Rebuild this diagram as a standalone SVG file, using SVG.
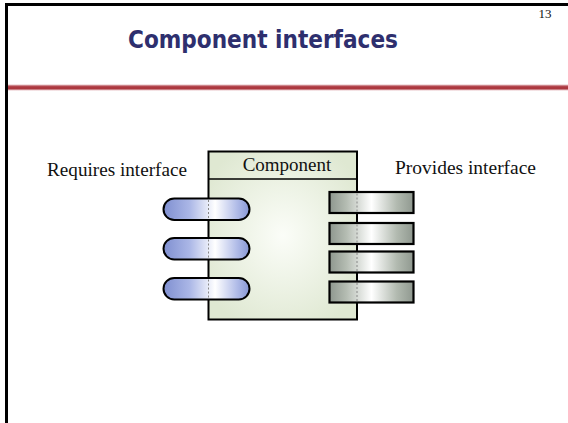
<svg xmlns="http://www.w3.org/2000/svg" width="568" height="423" viewBox="0 0 568 423">
  <defs>
    <radialGradient id="bodyFill" cx="0.5" cy="0.5" r="0.6">
      <stop offset="0" stop-color="#fbfdf8"/>
      <stop offset="1" stop-color="#dfe8d2"/>
    </radialGradient>
    <linearGradient id="pillFill" x1="0" y1="0" x2="1" y2="0">
      <stop offset="0" stop-color="#7f8fd0"/>
      <stop offset="0.3" stop-color="#aab6e6"/>
      <stop offset="0.6" stop-color="#ffffff"/>
      <stop offset="0.85" stop-color="#b2bde8"/>
      <stop offset="1" stop-color="#8696d4"/>
    </linearGradient>
    <linearGradient id="barFill" x1="0" y1="0" x2="1" y2="0">
      <stop offset="0" stop-color="#8e978e"/>
      <stop offset="0.2" stop-color="#b4bcb2"/>
      <stop offset="0.5" stop-color="#ffffff"/>
      <stop offset="0.8" stop-color="#b2bab0"/>
      <stop offset="1" stop-color="#8f988f"/>
    </linearGradient>
    <linearGradient id="rule" x1="0" y1="0" x2="0" y2="1">
      <stop offset="0" stop-color="#e8c4c8"/>
      <stop offset="0.35" stop-color="#b04048"/>
      <stop offset="0.65" stop-color="#a83038"/>
      <stop offset="1" stop-color="#e8c4c8"/>
    </linearGradient>
  </defs>
  <style>
    .serif { font-family: "Liberation Serif", "Times New Roman", serif; fill: #111; }
    .pill { fill: url(#pillFill); stroke: #000; stroke-width: 2; }
    .bar { fill: url(#barFill); stroke: #000; stroke-width: 2.2; }
    .seam { stroke: #888; stroke-width: 1; stroke-dasharray: 2 2; fill: none; }
  </style>

  <rect width="568" height="423" fill="#ffffff"/>

  <!-- slide frame -->
  <g id="frame">
    <path d="M6.5 423 V4.5 H568" fill="none" stroke="#000" stroke-width="3"/>
    <rect x="8" y="84.5" width="560" height="6" fill="url(#rule)"/>
  </g>

  <g id="header">
    <text x="545" y="18" class="serif" font-size="13" text-anchor="middle">13</text>
    <text x="263" y="48" font-family="'Comic Sans MS', 'DejaVu Sans', sans-serif" font-weight="bold" font-size="25" fill="#2e2f6e" text-anchor="middle" textLength="270" lengthAdjust="spacingAndGlyphs">Component interfaces</text>
  </g>

  <!-- component body -->
  <g id="component">
    <rect x="208.5" y="151.5" width="148.5" height="168" fill="url(#bodyFill)" stroke="#000" stroke-width="2"/>
    <line x1="208.5" y1="179" x2="357" y2="179" stroke="#000" stroke-width="1.5"/>
    <text x="287" y="171" class="serif" font-size="19" text-anchor="middle">Component</text>
  </g>

  <g id="requires-label">
    <text x="47" y="176" class="serif" font-size="19" textLength="140" lengthAdjust="spacingAndGlyphs">Requires interface</text>
  </g>
  <g id="provides-label">
    <text x="395" y="174" class="serif" font-size="19" textLength="141" lengthAdjust="spacingAndGlyphs">Provides interface</text>
  </g>

  <!-- required interfaces -->
  <g id="requires-1">
    <rect x="163.5" y="198.5" width="86" height="21.5" rx="10.75" class="pill"/>
    <line x1="208.5" y1="200" x2="208.5" y2="219" class="seam"/>
  </g>
  <g id="requires-2">
    <rect x="163.5" y="238" width="86" height="21.5" rx="10.75" class="pill"/>
    <line x1="208.5" y1="239.5" x2="208.5" y2="258.5" class="seam"/>
  </g>
  <g id="requires-3">
    <rect x="163.5" y="278" width="86" height="21.5" rx="10.75" class="pill"/>
    <line x1="208.5" y1="279.5" x2="208.5" y2="298.5" class="seam"/>
  </g>

  <!-- provided interfaces -->
  <g id="provides-1">
    <rect x="329.5" y="192" width="84" height="21" class="bar"/>
    <line x1="357" y1="193.5" x2="357" y2="211.5" class="seam"/>
  </g>
  <g id="provides-2">
    <rect x="329.5" y="223" width="84" height="21" class="bar"/>
    <line x1="357" y1="224.5" x2="357" y2="242.5" class="seam"/>
  </g>
  <g id="provides-3">
    <rect x="329.5" y="251.5" width="84" height="21" class="bar"/>
    <line x1="357" y1="253" x2="357" y2="271" class="seam"/>
  </g>
  <g id="provides-4">
    <rect x="329.5" y="281.5" width="84" height="21" class="bar"/>
    <line x1="357" y1="283" x2="357" y2="301" class="seam"/>
  </g>

  <g id="connectors"/>
</svg>
